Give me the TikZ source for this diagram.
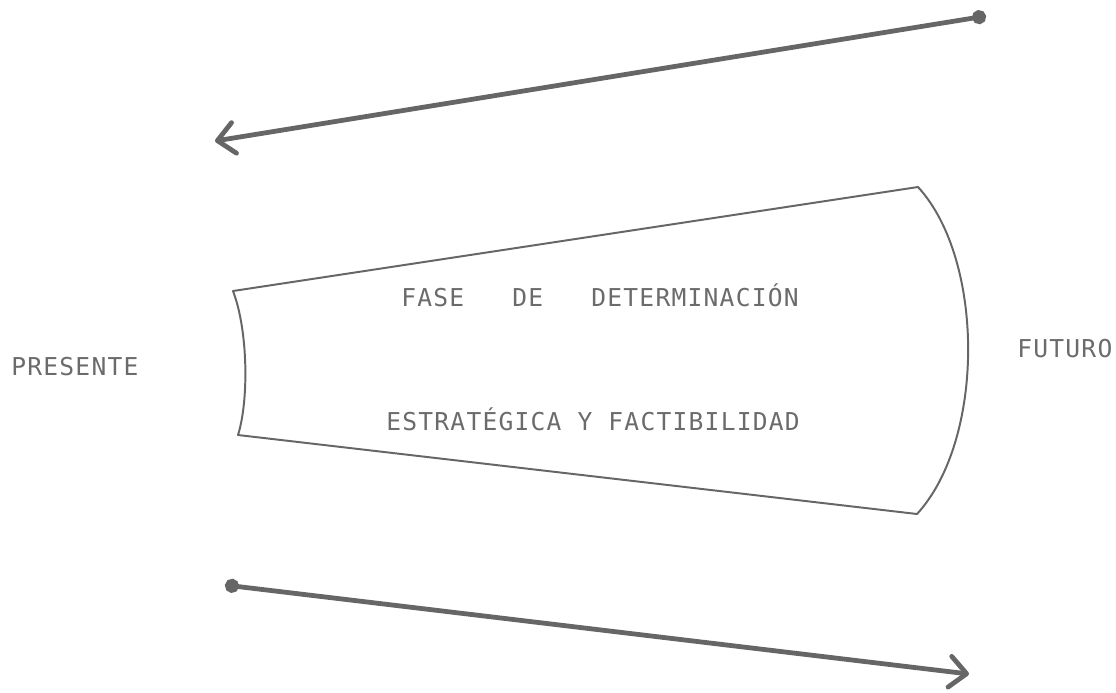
\documentclass[tikz,border=0pt]{standalone}
\usepackage{fontspec}
\usetikzlibrary{arrows.meta}
\newfontfamily\plotfont[LetterSpace=5]{DejaVu Sans Mono}
\definecolor{inkgray}{gray}{0.40}
\definecolor{textgray}{gray}{0.42}

\begin{document}
\begin{tikzpicture}[x=0.025cm, y=-0.025cm, line join=round,
 outline/.style={draw=inkgray, line width=1.4pt},
 timearrow/.style={draw=inkgray, line width=3.4pt, line cap=round,
  {Circle[length=10pt]}-{Straight Barb[length=12pt,width=22pt,round]}},
 label/.style={text=textgray, inner sep=0pt, anchor=base west,
  font=\plotfont\fontsize{17.5}{19}\selectfont}]
 \useasboundingbox (0,0) rectangle (1116,692);
 % time arrows
 \coordinate (top_start) at (986,16);
 \coordinate (top_end) at (215,141);
 \coordinate (bot_start) at (225,585);
 \coordinate (bot_end) at (969,674);
 \path[timearrow] (top_start) -- (top_end);
 \path[timearrow] (bot_start) -- (bot_end);
 % phase shape
 \coordinate (tl) at (233,291);
 \coordinate (tr) at (918,187);
 \coordinate (br) at (917,514);
 \coordinate (bl) at (238,435);
 \path[outline] (tl) -- (tr) .. controls (985,260) and (985,440) .. (br)
  -- (bl) .. controls (249,400) and (248,330) .. cycle;
 % texts
 \node[label] (line1) at (401,306) {FASE\ \ \ DE\ \ \ DETERMINACIÓN};
 \node[label] (line2) at (386,430) {ESTRATÉGICA Y FACTIBILIDAD};
 \node[label] (presente) at (11,375) {PRESENTE};
 \node[label] (futuro) at (1017,357) {FUTURO};
\end{tikzpicture}
\end{document}
